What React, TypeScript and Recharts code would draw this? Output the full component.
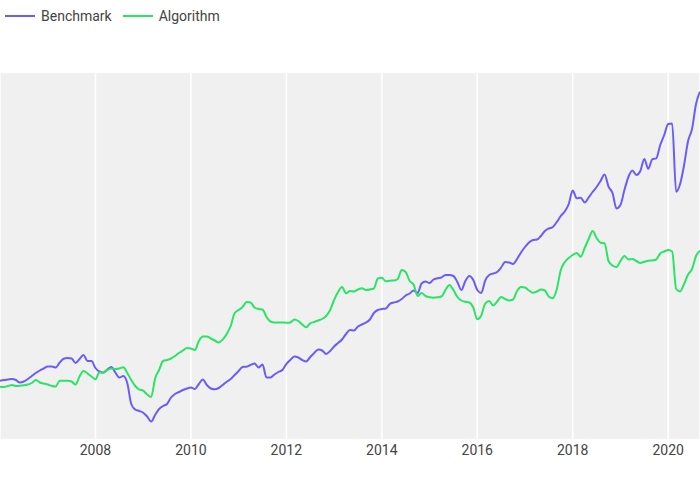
import { CartesianGrid, Line, LineChart, XAxis, YAxis } from "recharts";

// monthly series, Jan 2006 .. Sep 2020
const startYear = 2006;
const yearTicks = [2008, 2010, 2012, 2014, 2016, 2018, 2020];

const benchmark = [
  58.3, 59, 59.5, 60, 59, 56.5, 57.5, 60, 63, 66, 68.5, 70.5,
  72.5, 72.5, 71.5, 76.3, 80.3, 81, 80.5, 76, 80, 84, 78, 78,
  71, 67.5, 66.5, 69.5, 72, 66.5, 61.5, 63, 56, 35, 29.5, 28,
  26.3, 22.5, 17.5, 24, 30, 33, 35, 41.5, 45, 47, 49, 50.5,
  51.5, 50, 55, 59.5, 54, 50.5, 49.7, 51, 54, 57.3, 60, 64,
  68, 72, 72.3, 74, 75.5, 71.5, 74.5, 61.5, 61.5, 64.5, 67, 69,
  75, 79, 82.5, 81.5, 79, 77.5, 82, 86, 89.5, 88.5, 85, 88,
  92.5, 96, 99.5, 105, 109, 108.5, 112.5, 114.5, 116.5, 119.5, 126, 129,
  130, 130.5, 135, 136.5, 137.5, 140, 143.5, 145.5, 148.5, 146, 155.5, 157.5,
  156, 159.5, 160.7, 161.5, 164, 164, 163, 157, 149, 158, 163, 159,
  149, 146, 158.5, 164, 165.5, 167, 171.5, 177, 176.5, 175, 180, 186.5,
  192, 196.5, 199, 199.5, 203, 208, 210.5, 212, 217, 223, 227.5, 235,
  248.5, 240.7, 241.3, 236.5, 241.5, 247, 252, 258, 264.5, 252.3, 246, 230.5,
  234, 249, 262, 268.5, 264, 268, 280, 270.2, 279.7, 280.7, 294, 304,
  315, 315.5, 247.3, 255, 274, 298, 310, 335, 347.3,
];

const algorithm = [
  52.3, 52, 53, 54, 53, 53.2, 53.7, 54.5, 56, 59, 56.5, 55.5,
  54.5, 53, 52.5, 58.3, 58.3, 58.3, 57.5, 54.5, 62.5, 68, 65.5, 62.5,
  59.7, 66.7, 66.3, 69, 70.5, 70, 70.5, 71.7, 66, 59, 53, 49.5,
  48.3, 44.5, 42, 60.5, 69, 78, 79, 80.5, 83, 86, 88.5, 91,
  90.5, 89, 98, 102.5, 102.5, 100.5, 98.5, 96.5, 99.5, 105, 113, 126,
  129, 132, 137, 136.5, 131.5, 130, 129.5, 122, 117.5, 116.5, 116.5, 116.5,
  116.3, 116.5, 119.5, 118, 114.5, 111.7, 115.7, 117, 118.5, 120, 123, 129,
  139, 147, 152, 145.7, 148, 147.5, 149.5, 150.7, 149, 149.5, 150.7, 160.5,
  161.3, 157.7, 158.3, 158.5, 160, 169, 167, 158, 154.5, 143, 146, 143,
  141.7, 141.3, 141.7, 142.5, 149, 154, 149, 142, 138.5, 137.3, 136.5, 131.5,
  119.7, 123.5, 135.5, 138, 133.5, 137.5, 142, 140, 138.5, 139.5, 148, 152,
  151.5, 148.5, 146.3, 147.5, 149.5, 148.5, 142.3, 140.7, 150, 169, 177, 181,
  184, 186, 182.3, 191, 200, 208, 201, 196.3, 195.7, 178, 173.5, 172,
  178, 183, 179.5, 180, 178, 176, 177.3, 178.3, 178.5, 179.5, 185.5, 187.5,
  189, 187.5, 150, 147.5, 155, 164.5, 170, 183, 188.3,
];

const series = [
  { key: "benchmark", name: "Benchmark", color: "#6a5cf8" },
  { key: "algorithm", name: "Algorithm", color: "#2ae466" },
];

const data = benchmark.map((b, i) => ({
  t: startYear + i / 12,
  benchmark: b,
  algorithm: algorithm[i],
}));

const lastT = startYear + (benchmark.length - 1) / 12;

function TopLegend() {
  return (
    <div style={{ position: "absolute", left: 5, top: 6, display: "flex", gap: 11, fontSize: 14, color: "#444" }}>
      {series.map((s) => (
        <div key={s.key} style={{ display: "flex", alignItems: "center", height: 20 }}>
          <svg width={30} height={20} style={{ marginRight: 6 }}>
            <line x1={0} x2={30} y1={10} y2={10} stroke={s.color} strokeWidth={2} />
          </svg>
          <span>{s.name}</span>
        </div>
      ))}
    </div>
  );
}

export default function App() {
  return (
    <div
      style={{
        position: "absolute",
        left: 0,
        top: 0,
        width: 700,
        height: 500,
        background: "#fff",
        fontFamily: "Roboto, sans-serif",
      }}
    >
      <TopLegend />
      <LineChart width={700} height={500} data={data} margin={{ top: 73, right: 0, bottom: 0, left: 0 }}>
        <CartesianGrid horizontal={false} fill="#f0f0f0" stroke="#ffffff" strokeWidth={1.5} />
        <XAxis
          type="number"
          dataKey="t"
          domain={[startYear, lastT]}
          ticks={yearTicks}
          interval={0}
          allowDataOverflow
          tickLine={false}
          axisLine={false}
          height={61}
          tickMargin={0}
          tick={{ fill: "#444", fontSize: 14, fontFamily: "Roboto" }}
          tickFormatter={(v) => String(Math.round(v))}
        />
        <YAxis hide domain={[0, 366]} />
        {series.map((s) => (
          <Line
            key={s.key}
            type="monotone"
            dataKey={s.key}
            name={s.name}
            stroke={s.color}
            strokeWidth={2}
            dot={false}
            isAnimationActive={false}
          />
        ))}
      </LineChart>
    </div>
  );
}
